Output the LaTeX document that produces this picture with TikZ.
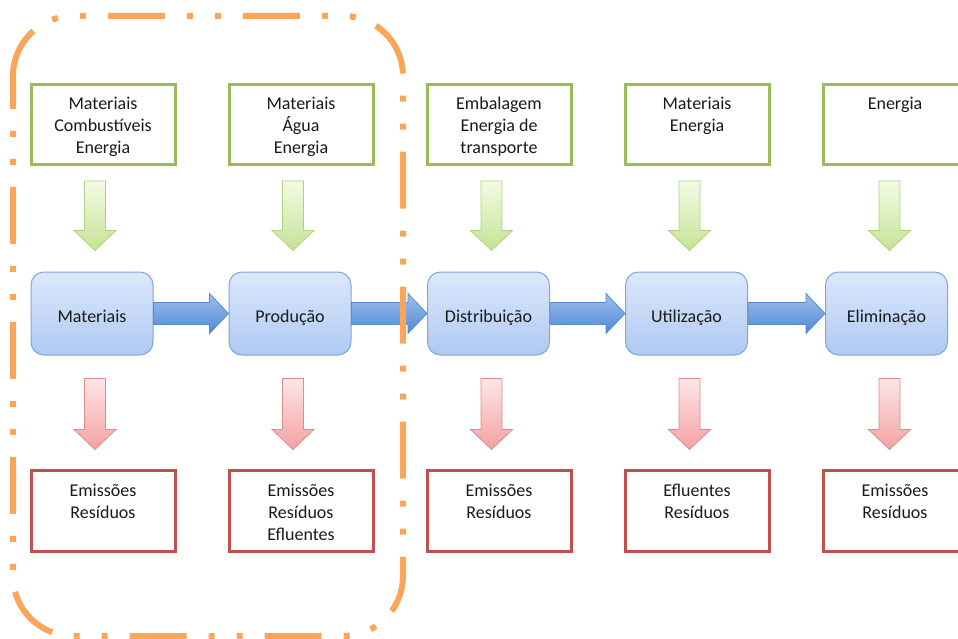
\documentclass[tikz,border=0pt]{standalone}
\usepackage{fontspec}
\setmainfont{Carlito}
\usetikzlibrary{calc}

\definecolor{txt}{HTML}{1A1A1A}
\definecolor{inline}{HTML}{9BBB59}
\definecolor{outline}{HTML}{C0504D}
\definecolor{scope}{HTML}{F9A65A}
\definecolor{stagetop}{HTML}{DCE8FB}
\definecolor{stagebot}{HTML}{AFC9F2}
\definecolor{stageline}{HTML}{7FA6D8}
\definecolor{flowtop}{HTML}{9DBEEC}
\definecolor{flowbot}{HTML}{5089D6}
\definecolor{flowline}{HTML}{5A8CCB}
\definecolor{gtop}{HTML}{F3FBE4}
\definecolor{gbot}{HTML}{C4E394}
\definecolor{gline}{HTML}{AFD27E}
\definecolor{rtop}{HTML}{FDE6E6}
\definecolor{rbot}{HTML}{F4A1A1}
\definecolor{rline}{HTML}{DD8D8D}

% text block of an input/output box, first baseline fixed below the top
\newcommand\celltext[1]{\parbox[c][55pt][t]{140pt}{\centering\rule{0pt}{13pt}#1}}

% horizontal block arrow from the east side of #1 to the west side of #2
\newcommand\hblock[2]{%
  \path[flowarrow] ($(#1.east)+(0,-11)$) -- ($(#2.west)+(-19,-11)$)
    -- ($(#2.west)+(-19,-20)$) -- (#2.west) -- ($(#2.west)+(-19,20)$)
    -- ($(#2.west)+(-19,11)$) -- ($(#1.east)+(0,11)$) -- cycle;}

% vertical block arrow, style #1, from coordinate #2 down to tip #3
\newcommand\vblock[3]{%
  \path[#1] ($(#2)+(-10.5,0)$) -- ($(#3)+(-10.5,-20)$) -- ($(#3)+(-21,-20)$)
    -- (#3) -- ($(#3)+(21,-20)$) -- ($(#3)+(10.5,-20)$)
    -- ($(#2)+(10.5,0)$) -- cycle;}

\tikzset{
  every node/.style={font=\fontsize{18}{22}\selectfont, text=txt},
  inbox/.style={draw=inline, line width=3pt, fill=white, minimum width=144pt,
    minimum height=80pt, inner sep=0pt},
  outbox/.style={draw=outline, line width=3pt, fill=white, minimum width=144pt,
    minimum height=81pt, inner sep=0pt},
  stage/.style={draw=stageline, line width=1pt, rounded corners=13pt,
    top color=stagetop, bottom color=stagebot, minimum width=122pt,
    minimum height=83pt, inner sep=0pt, text height=17pt, text depth=0pt},
  flowarrow/.style={draw=flowline, line width=0.8pt, top color=flowtop,
    bottom color=flowbot},
  inarrow/.style={draw=gline, line width=0.8pt, top color=gtop, bottom color=gbot},
  outarrow/.style={draw=rline, line width=0.8pt, top color=rtop, bottom color=rbot},
  scopeline/.style={draw=scope, line width=6pt, rounded corners=60pt,
    dash pattern=on 57pt off 22pt on 6pt off 22pt on 6pt off 22pt,
    dash phase=6pt},
}

\begin{document}
\begin{tikzpicture}[x=1pt, y=-1pt]
\useasboundingbox (0,0) rectangle (958,639);
\clip (0,0) rectangle (958,639);

% life-cycle stages
\node[stage] (s1) at (92,313.5) {Materiais};
\node[stage] (s2) at (290,313.5) {Produção};
\node[stage] (s3) at (488.5,313.5) {Distribuição};
\node[stage] (s4) at (686.5,313.5) {Utilização};
\node[stage] (s5) at (886.5,313.5) {Eliminação};

% inputs
\node[inbox] (i1) at (103,124.5) {\celltext{Materiais\\Combustíveis\\Energia}};
\node[inbox] (i2) at (301,124.5) {\celltext{Materiais\\Água\\Energia}};
\node[inbox] (i3) at (499,124.5) {\celltext{Embalagem\\Energia de\\transporte}};
\node[inbox] (i4) at (697,124.5) {\celltext{Materiais\\Energia}};
\node[inbox] (i5) at (895,124.5) {\celltext{Energia}};

% outputs
\node[outbox] (o1) at (103,510.5) {\celltext{Emissões\\Resíduos}};
\node[outbox] (o2) at (301,510.5) {\celltext{Emissões\\Resíduos\\Efluentes}};
\node[outbox] (o3) at (499,510.5) {\celltext{Emissões\\Resíduos}};
\node[outbox] (o4) at (697,510.5) {\celltext{Efluentes\\Resíduos}};
\node[outbox] (o5) at (895,510.5) {\celltext{Emissões\\Resíduos}};

% flow between stages
\hblock{s1}{s2}
\hblock{s2}{s3}
\hblock{s3}{s4}
\hblock{s4}{s5}

% inputs and outputs of each stage
\foreach \k in {1,...,5}{
  \coordinate (gs\k) at ($(i\k.south -| s\k.north)+(3,15)$);
  \coordinate (gt\k) at ($(s\k.north)+(3,-21)$);
  \vblock{inarrow}{gs\k}{gt\k}
  \coordinate (rs\k) at ($(s\k.south)+(3,23)$);
  \coordinate (rt\k) at ($(o\k.north -| s\k.south)+(3,-19)$);
  \vblock{outarrow}{rs\k}{rt\k}
}

% boundary of the first two stages, drawn clockwise from the top of its left side
\draw[scopeline] (13,76) -- (13,16) -- (403,16) -- (403,636) -- (13,636) -- (13,76);
\end{tikzpicture}
\end{document}
